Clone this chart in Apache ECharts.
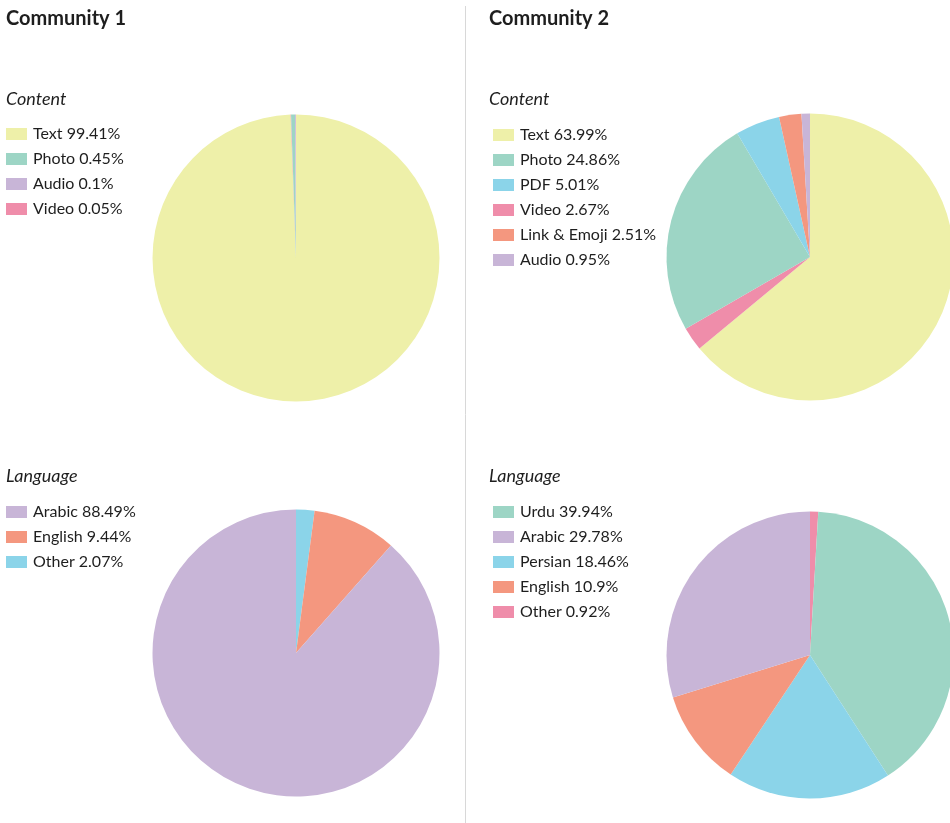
<!DOCTYPE html>
<html>
<head>
<meta charset="utf-8">
<script src="https://cdn.jsdelivr.net/npm/echarts@6/dist/echarts.min.js"></script>
<style>
  html, body { margin: 0; padding: 0; background: #fff; }
  #chart { width: 950px; height: 823px; }
</style>
</head>
<body>
<div id="chart"></div>
<script>
// Share of messages per community, in percent (legend order)
var c1ContentNames = ['Text', 'Photo', 'Audio', 'Video'];
var c1ContentValues = [99.41, 0.45, 0.1, 0.05];
var c1ContentPieOrder = ['Text', 'Video', 'Photo', 'Audio'];

var c2ContentNames = ['Text', 'Photo', 'PDF', 'Video', 'Link & Emoji', 'Audio'];
var c2ContentValues = [63.99, 24.86, 5.01, 2.67, 2.51, 0.95];
var c2ContentPieOrder = ['Text', 'Video', 'Photo', 'PDF', 'Link & Emoji', 'Audio'];

var c1LanguageNames = ['Arabic', 'English', 'Other'];
var c1LanguageValues = [88.49, 9.44, 2.07];
var c1LanguagePieOrder = ['Other', 'English', 'Arabic'];

var c2LanguageNames = ['Urdu', 'Arabic', 'Persian', 'English', 'Other'];
var c2LanguageValues = [39.94, 29.78, 18.46, 10.9, 0.92];
var c2LanguagePieOrder = ['Other', 'Urdu', 'Persian', 'English', 'Arabic'];

var contentColors = {
  'Text': '#eef0a9', 'Photo': '#9dd5c5', 'PDF': '#8bd4e9',
  'Video': '#ef8daa', 'Link & Emoji': '#f4977f', 'Audio': '#c8b5d7'
};
var c1LanguageColors = { 'Arabic': '#c8b5d7', 'English': '#f4977f', 'Other': '#8bd4e9' };
var c2LanguageColors = {
  'Urdu': '#9dd5c5', 'Arabic': '#c8b5d7', 'Persian': '#8bd4e9',
  'English': '#f4977f', 'Other': '#ef8daa'
};

var FONT = 'Lato, "Noto Sans", sans-serif';
var TEXT_COLOR = '#1e1e1e';

function pieData(names, values, order, colors) {
  return order.map(function (n) {
    return { name: n, value: values[names.indexOf(n)], itemStyle: { color: colors[n] } };
  });
}

function legendFor(names, values, colors, left, top) {
  return {
    orient: 'vertical',
    left: left,
    top: top,
    itemWidth: 21,
    itemHeight: 12,
    itemGap: 9,
    icon: 'rect',
    selectedMode: false,
    padding: 0,
    textStyle: { fontFamily: FONT, fontSize: 16, color: TEXT_COLOR, lineHeight: 16, padding: [0, 0, 0, 1] },
    data: names.map(function (n) {
      return { name: n, itemStyle: { color: colors[n] } };
    }),
    formatter: function (name) {
      return name + ' ' + values[names.indexOf(name)] + '%';
    }
  };
}

function pieSeries(names, values, order, colors, center) {
  return {
    type: 'pie',
    center: center,
    radius: 143.5,
    startAngle: 90,
    clockwise: true,
    silent: true,
    animation: false,
    label: { show: false },
    labelLine: { show: false },
    itemStyle: { borderWidth: 0 },
    emphasis: { disabled: true },
    data: pieData(names, values, order, colors)
  };
}

var titleStyle = { fontFamily: FONT, fontSize: 20, fontWeight: 'bold', color: TEXT_COLOR };
var subStyle = { fontFamily: FONT, fontSize: 18, fontStyle: 'italic', fontWeight: 'normal', color: TEXT_COLOR };

var chart = echarts.init(document.getElementById('chart'), null, { renderer: 'canvas' });
chart.setOption({
  backgroundColor: '#ffffff',
  animation: false,
  title: [
    { text: 'Community 1', left: 6, top: 9, padding: 0, textStyle: titleStyle },
    { text: 'Community 2', left: 489, top: 9, padding: 0, textStyle: titleStyle },
    { text: 'Content', left: 6, top: 90, padding: 0, textStyle: subStyle },
    { text: 'Content', left: 489, top: 90, padding: 0, textStyle: subStyle },
    { text: 'Language', left: 6, top: 467, padding: 0, textStyle: subStyle },
    { text: 'Language', left: 489, top: 467, padding: 0, textStyle: subStyle }
  ],
  legend: [
    legendFor(c1ContentNames, c1ContentValues, contentColors, 6, 126),
    legendFor(c2ContentNames, c2ContentValues, contentColors, 493, 127),
    legendFor(c1LanguageNames, c1LanguageValues, c1LanguageColors, 6, 504),
    legendFor(c2LanguageNames, c2LanguageValues, c2LanguageColors, 493, 504)
  ],
  graphic: [{
    type: 'line',
    shape: { x1: 465.5, y1: 6, x2: 465.5, y2: 823 },
    style: { stroke: '#d8d8d8', lineWidth: 1 },
    silent: true
  }],
  series: [
    pieSeries(c1ContentNames, c1ContentValues, c1ContentPieOrder, contentColors, [296, 258]),
    pieSeries(c2ContentNames, c2ContentValues, c2ContentPieOrder, contentColors, [810, 257]),
    pieSeries(c1LanguageNames, c1LanguageValues, c1LanguagePieOrder, c1LanguageColors, [296, 653]),
    pieSeries(c2LanguageNames, c2LanguageValues, c2LanguagePieOrder, c2LanguageColors, [810, 655])
  ]
});
</script>
</body>
</html>
